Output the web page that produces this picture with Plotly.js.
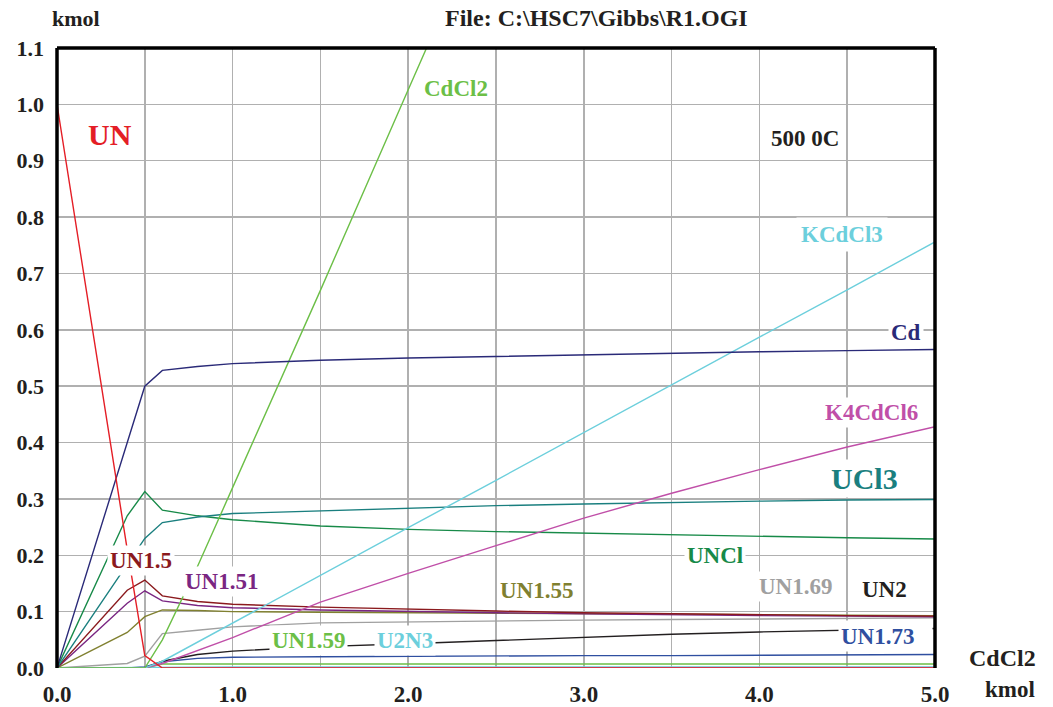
<!DOCTYPE html>
<html>
<head>
<meta charset="utf-8">
<script src="https://cdn.plot.ly/plotly-3.0.1.min.js"></script>
<style>html,body{margin:0;padding:0;background:#fff;}#chart{width:1053px;height:707px;}</style>
</head>
<body>
<div id="chart"></div>
<script>
// CdCl2 added (kmol)
const xCdCl2 = [0, 0.4, 0.5, 0.6, 0.8, 1.0, 1.5, 2.0, 2.5, 3.0, 3.5, 4.0, 4.5, 5.0];

// species amounts (kmol)
const UN      = [1.0, 0.21, 0.022, 0, 0, 0, 0, 0, 0, 0, 0, 0, 0, 0];
const Cd      = [0, 0.40, 0.50, 0.528, 0.535, 0.540, 0.546, 0.550, 0.553, 0.556, 0.559, 0.561, 0.563, 0.565];
const CdCl2   = [0, 0, 0, 0.05, 0.18, 0.32, 0.67, 1.026, 1.38, null, null, null, null, null];
const KCdCl3  = [0, 0, 0, 0.012, 0.046, 0.080, 0.165, 0.249, 0.333, 0.418, 0.502, 0.587, 0.671, 0.756];
const K4CdCl6 = [0, 0, 0, 0.008, 0.031, 0.054, 0.117, 0.168, 0.217, 0.266, 0.310, 0.352, 0.392, 0.428];
const UCl3    = [0, 0.184, 0.230, 0.258, 0.268, 0.274, 0.279, 0.284, 0.288, 0.291, 0.294, 0.296, 0.298, 0.299];
const UNCl    = [0, 0.270, 0.313, 0.280, 0.270, 0.263, 0.252, 0.246, 0.242, 0.239, 0.236, 0.233, 0.231, 0.229];
const UN15    = [0, 0.138, 0.156, 0.128, 0.118, 0.113, 0.108, 0.104, 0.101, 0.098, 0.096, 0.094, 0.093, 0.092];
const UN151   = [0, 0.115, 0.137, 0.119, 0.111, 0.107, 0.103, 0.100, 0.098, 0.096, 0.094, 0.093, 0.092, 0.091];
const UN155   = [0, 0.063, 0.091, 0.103, 0.102, 0.100, 0.099, 0.098, 0.097, 0.096, 0.095, 0.094, 0.093, 0.093];
const UN169   = [0, 0.008, 0.021, 0.061, 0.067, 0.073, 0.080, 0.082, 0.084, 0.085, 0.086, 0.087, 0.088, 0.089];
const UN2     = [0, 0, 0, 0.012, 0.024, 0.030, 0.038, 0.043, 0.049, 0.055, 0.060, 0.064, 0.067, 0.070];
const UN173   = [0, 0, 0.002, 0.011, 0.017, 0.019, 0.020, 0.021, 0.021, 0.022, 0.022, 0.023, 0.023, 0.024];
const UN159   = [0, 0, 0, 0.007, 0.007, 0.007, 0.007, 0.007, 0.007, 0.007, 0.007, 0.007, 0.007, 0.007];
const U2N3    = [0, 0.001, 0.002, 0.002, 0.002, 0.002, 0.002, 0.002, 0.002, 0.002, 0.002, 0.002, 0.002, 0.002];
const Minor   = [0, 0, 0, 0.001, 0.001, 0.001, 0.001, 0.001, 0.001, 0.001, 0.001, 0.001, 0.001, 0.001];

// tick labels
const xTickVals = [0, 0.5, 1, 1.5, 2, 2.5, 3, 3.5, 4, 4.5, 5];
const xTickText = ["0.0", "", "1.0", "", "2.0", "", "3.0", "", "4.0", "", "5.0"];
const yTickVals = [0, 0.1, 0.2, 0.3, 0.4, 0.5, 0.6, 0.7, 0.8, 0.9, 1.0, 1.1];
const yTickText = ["0.0", "0.1", "0.2", "0.3", "0.4", "0.5", "0.6", "0.7", "0.8", "0.9", "1.0", "1.1"];

const series = [
  {name: "Minor",   y: Minor,   color: "#c04fa8"},
  {name: "U2N3",    y: U2N3,    color: "#6ccfdc"},
  {name: "UN1.59",  y: UN159,   color: "#6cbf47"},
  {name: "UN1.73",  y: UN173,   color: "#2f4fa0"},
  {name: "UN2",     y: UN2,     color: "#231f20"},
  {name: "UN1.69",  y: UN169,   color: "#a0a0a0"},
  {name: "UN1.55",  y: UN155,   color: "#808030"},
  {name: "UN1.51",  y: UN151,   color: "#7a2682"},
  {name: "UN1.5",   y: UN15,    color: "#8b1a1e"},
  {name: "UNCl",    y: UNCl,    color: "#178a48"},
  {name: "UCl3",    y: UCl3,    color: "#1a7f7f"},
  {name: "K4CdCl6", y: K4CdCl6, color: "#c04fa8"},
  {name: "KCdCl3",  y: KCdCl3,  color: "#6ccfdc"},
  {name: "CdCl2",   y: CdCl2,   color: "#6cbf47"},
  {name: "Cd",      y: Cd,      color: "#2a2a78"},
  {name: "UN",      y: UN,      color: "#e41e26"}
];

const traces = series.map(s => ({
  type: "scatter", mode: "lines", name: s.name,
  x: xCdCl2, y: s.y,
  line: {color: s.color, width: 1.4},
  connectgaps: false, hoverinfo: "skip"
}));

const F = "Liberation Serif, Times New Roman, serif";
function lab(text, x, y, color, size, pad) {
  return {text: "<b>" + text + "</b>", x: x, y: y, xref: "x", yref: "y",
    showarrow: false, bgcolor: "#ffffff", borderpad: pad === undefined ? 2 : pad,
    font: {family: F, size: size || 23, color: color}, xanchor: "center", yanchor: "middle"};
}
function txt(text, x, y, size) {
  return {text: "<b>" + text + "</b>", x: x, y: y, xref: "paper", yref: "paper",
    showarrow: false, font: {family: F, size: size, color: "#231f20"},
    xanchor: "center", yanchor: "middle"};
}

const un173 = lab("UN1.73", 4.448, 0.057, "#2f4fa0", 23, 2);
un173.xanchor = "left"; un173.width = 89; un173.height = 26; un173.align = "left";

const annotations = [
  lab("UN", 0.30, 0.947, "#e41e26", 30, 2),
  lab("CdCl2", 2.272, 1.029, "#6cbf47", 23),
  lab("500 0C", 4.26, 0.940, "#231f20", 23, 4),
  lab("KCdCl3", 4.47, 0.770, "#6ccfdc", 23, 4),
  lab("Cd", 4.835, 0.596, "#2a2a78", 23),
  lab("K4CdCl6", 4.636, 0.454, "#c04fa8", 23),
  lab("UCl3", 4.60, 0.337, "#1a7f7f", 30),
  lab("UNCl", 3.747, 0.200, "#178a48", 23),
  lab("UN1.5", 0.478, 0.190, "#8b1a1e", 23),
  lab("UN1.51", 0.934, 0.153, "#7a2682", 23),
  lab("UN1.55", 2.733, 0.138, "#808030", 23),
  lab("UN1.69", 4.203, 0.144, "#a0a0a0", 23),
  lab("UN2", 4.715, 0.140, "#231f20", 23),
  un173,
  lab("UN1.59", 1.435, 0.048, "#6cbf47", 23),
  lab("U2N3", 1.982, 0.048, "#6ccfdc", 23),
  txt("kmol", 0.0216, 1.048, 22),
  txt("File: C:\\HSC7\\Gibbs\\R1.OGI", 0.615, 1.048, 24),
  txt("CdCl2", 1.077, 0.016, 24),
  txt("kmol", 1.085, -0.035, 23)
];

const layout = {
  width: 1053, height: 707,
  margin: {l: 57, r: 118, t: 48, b: 39, pad: 0},
  paper_bgcolor: "#ffffff", plot_bgcolor: "#ffffff",
  showlegend: false,
  font: {family: F, color: "#231f20"},
  xaxis: {
    range: [0, 5], tickmode: "array", tickvals: xTickVals, ticktext: xTickText,
    showgrid: true, gridcolor: "#b0b0b0", gridwidth: 1.5, zeroline: false,
    showline: false, ticks: "", ticklabelstandoff: 10,
    tickfont: {family: F, size: 23, color: "#231f20", weight: "bold"}
  },
  yaxis: {
    range: [0, 1.1], tickmode: "array", tickvals: yTickVals, ticktext: yTickText,
    showgrid: true, gridcolor: "#b0b0b0", gridwidth: 1.5, zeroline: false,
    showline: false, ticks: "", ticklabelstandoff: 12,
    tickfont: {family: F, size: 22, color: "#231f20", weight: "bold"}
  },
  shapes: [
    {type: "line", xref: "paper", yref: "paper", x0: 0, x1: 0, y0: 0, y1: 1, line: {color: "#000", width: 3.5}, layer: "above"},
    {type: "line", xref: "paper", yref: "paper", x0: 0, x1: 1, y0: 1, y1: 1, line: {color: "#000", width: 3.5}, layer: "above"},
    {type: "line", xref: "paper", yref: "paper", x0: 1, x1: 1, y0: 0, y1: 1, line: {color: "#000", width: 3.5}, layer: "above"}
  ],
  annotations: annotations
};

Plotly.newPlot("chart", traces, layout, {staticPlot: true, displayModeBar: false});
</script>
</body>
</html>
